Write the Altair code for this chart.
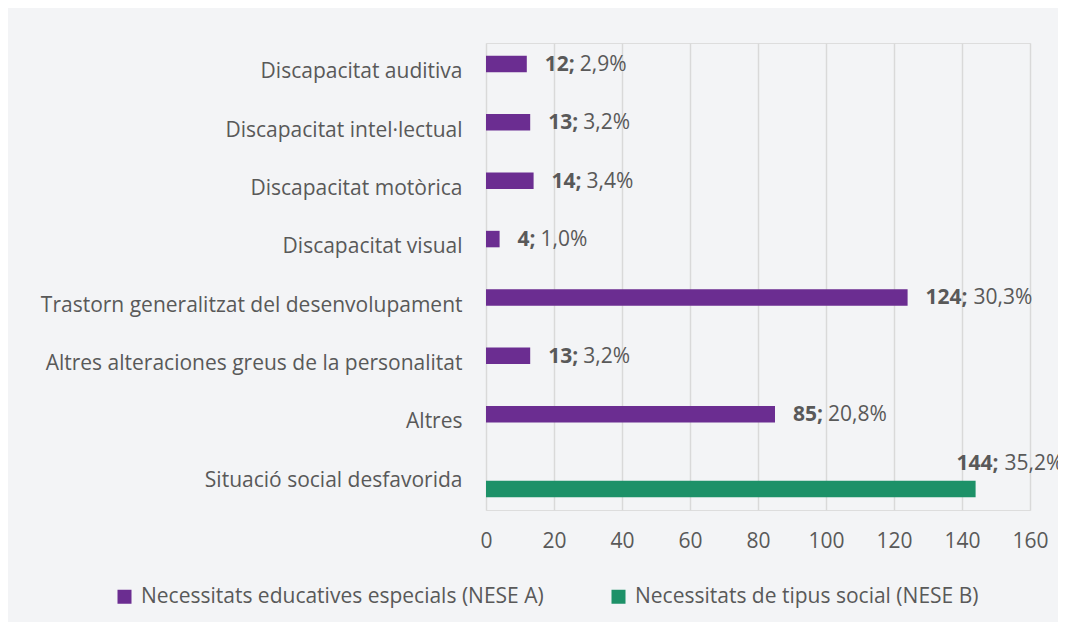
import altair as alt
import pandas as pd

categories = [
    "Discapacitat auditiva",
    "Discapacitat intel·lectual",
    "Discapacitat motòrica",
    "Discapacitat visual",
    "Trastorn generalitzat del desenvolupament",
    "Altres alteraciones greus de la personalitat",
    "Altres",
    "Situació social desfavorida",
]
groups = ["Necessitats educatives especials (NESE A)", "Necessitats de tipus social (NESE B)"]
series_group = [0, 0, 0, 0, 0, 0, 0, 1]
counts = [12, 13, 14, 4, 124, 13, 85, 144]
percents = [2.9, 3.2, 3.4, 1.0, 30.3, 3.2, 20.8, 35.2]
colors = ["#6B2D91", "#1D9168"]

rows = []
for c, g, v, p in zip(categories, series_group, counts, percents):
    rows.append({
        "category": c,
        "group": groups[g],
        "value": v,
        "bold": f"{v};",
        "pct": f"{p:.1f}%".replace(".", ","),
        "digits": len(str(v)),
    })
df = pd.DataFrame(rows)

FONT = "Open Sans"
GREY = "#595959"
FS = 21

y_enc = alt.Y("category:N", sort=categories, title=None,
              scale=alt.Scale(domain=categories, paddingInner=0.435, paddingOuter=0.2175),
              axis=alt.Axis(domain=False, ticks=False, labelPadding=24, labelFontSize=FS,
                            labelColor=GREY, labelLimit=0, labelFont=FONT))
yoff = alt.YOffset("group:N", scale=alt.Scale(domain=groups, paddingInner=0, paddingOuter=0))
x_enc = alt.X("value:Q", title=None,
              scale=alt.Scale(domain=[0, 160], nice=False),
              axis=alt.Axis(values=list(range(0, 161, 20)), domain=False, ticks=False,
                            grid=True, gridColor="#d9d9d9", gridWidth=1.5,
                            labelFlush=False, labelOverlap=False,
                            labelPadding=20, labelFontSize=FS, labelColor=GREY, labelFont=FONT))

base = alt.Chart(df)

bars = base.mark_bar().encode(
    x=x_enc,
    y=y_enc,
    yOffset=yoff,
    color=alt.Color("group:N", scale=alt.Scale(domain=groups, range=colors),
                    legend=alt.Legend(title=None, orient="none", legendX=-372, legendY=543,
                                      direction="horizontal", symbolType="square",
                                      symbolSize=196, symbolStrokeWidth=0,
                                      labelFontSize=FS, labelColor=GREY, labelFont=FONT,
                                      columnPadding=64, labelOffset=6, labelLimit=0)),
)

layers = [bars]
reg_offsets = {1: 23, 2: 35, 3: 48}
for grp, dx0, dy0 in [(groups[0], 18, 1), (groups[1], -19, -25)]:
    for d, off in reg_offsets.items():
        sub = base.transform_filter(
            (alt.datum.group == grp) & (alt.datum.digits == d)
        )
        layers.append(sub.mark_text(align="left", baseline="middle", dx=dx0, dy=dy0,
                                    fontSize=FS, fontWeight="bold", font=FONT, color=GREY)
                      .encode(x="value:Q", y=alt.Y("category:N", sort=categories), yOffset=yoff,
                              text="bold:N"))
        layers.append(sub.mark_text(align="left", baseline="middle", dx=dx0 + off, dy=dy0,
                                    fontSize=FS, font=FONT, color=GREY)
                      .encode(x="value:Q", y=alt.Y("category:N", sort=categories), yOffset=yoff,
                              text="pct:N"))

chart = alt.layer(*layers).properties(
    width=544, height=467,
    autosize=alt.AutoSizeParams(type="none"),
    padding={"left": 478, "top": 35, "right": 28, "bottom": 112},
    background="#f3f4f6",
).configure_view(stroke=None).configure(font=FONT)

chart.save("out.html", embed_options={"renderer": "svg", "actions": False})
